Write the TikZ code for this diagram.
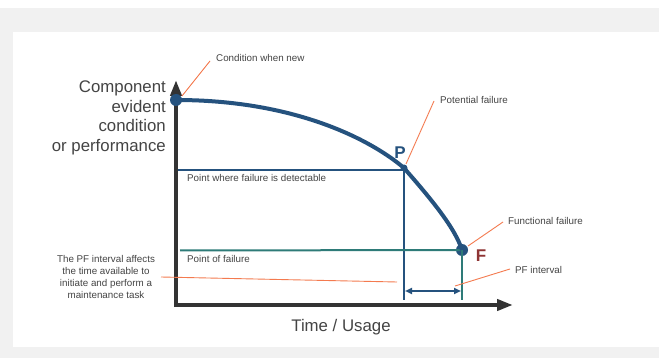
\documentclass[tikz,border=0pt]{standalone}
\usepackage{fontspec}
\setmainfont{Liberation Sans}
\usetikzlibrary{arrows.meta}
\definecolor{bgray}{HTML}{F1F1F1}
\definecolor{curveblue}{HTML}{25527E}
\definecolor{axisgray}{HTML}{333333}
\definecolor{tealc}{HTML}{2E7B78}
\definecolor{orangec}{HTML}{F47A4F}
\definecolor{txtgray}{HTML}{444444}
\definecolor{fred}{HTML}{8E3434}
\begin{document}
\begin{tikzpicture}[x=1pt,y=-1pt,
  axis/.style={line width=4pt,color=axisgray},
  lead/.style={orangec,line width=0.9pt},
  small/.style={font=\fontsize{9.8}{12}\selectfont,text=txtgray,inner sep=0pt},
  big/.style={font=\fontsize{16.8}{19.5}\selectfont,text=txtgray,inner sep=0pt},
  dot/.style={circle,fill=curveblue,inner sep=0pt,minimum size=12pt}]
\useasboundingbox (0,0) rectangle (659,358);
\fill[bgray] (0,0) rectangle (659,358);
\fill[white] (0,0) rectangle (659,8);
\fill[white] (13,32) rectangle (659,347);
% axes
\coordinate (O) at (176,305);
\coordinate (Ytop) at (176,80);
\coordinate (Xend) at (513,305);
\draw[axis,-{Triangle[length=16pt,width=11pt]}] (176,307) -- (Ytop);
\draw[axis,-{Triangle[length=16pt,width=11pt]}] (174,305) -- (Xend);
% guide lines
\node[dot] (N) at (176,100) {};
\node[dot,minimum size=7pt] (P) at (404,168) {};
\node[dot] (F) at (462,250) {};
\coordinate (DL) at (178,170);
\coordinate (FL) at (180,250.5);
\coordinate (Pb) at (404,300);
\coordinate (Fb) at (462,300);
\draw[curveblue,line width=2pt] (DL) -- (404,170);
\draw[curveblue,line width=2pt] (P.center) -- (Pb);
\draw[tealc,line width=2pt] (FL) -- (F.center);
\draw[tealc,line width=2pt] (F.center) -- (Fb);
\draw[curveblue,line width=2pt,{Triangle[length=7pt,width=6pt]}-{Triangle[length=7pt,width=6pt]}] (405,291) -- (461,291);
% curve
\draw[curveblue,line width=4pt] (N.center) .. controls (300,100) and (375,143) .. (P.center)
   .. controls (432,200) and (455,228) .. (F.center);
% letters
\node[font=\fontsize{17}{17}\selectfont\bfseries,text=curveblue,inner sep=0pt] (Pl) at (400,153) {P};
\node[font=\fontsize{17}{17}\selectfont\bfseries,text=fred,inner sep=0pt] (Fl) at (481,256) {F};
% labels
\node[small,anchor=west] (cwn) at (216,58) {Condition when new};
\node[small,anchor=west] (pf) at (440,100) {Potential failure};
\node[small,anchor=west] (ff) at (508,221) {Functional failure};
\node[small,anchor=west] (pfi) at (515,270) {PF interval};
\node[small,anchor=west] (pwd) at (187,178) {Point where failure is detectable};
\node[small,anchor=west] (pof) at (187,259) {Point of failure};
\node[small,align=center] (note) at (106,277) {The PF interval affects\\the time available to\\initiate and perform a\\maintenance task};
\node[big,align=right,anchor=east] (ylab) at (166,118) {Component\\evident\\condition\\or performance};
\node[big] (xlab) at (341,327) {Time / Usage};
% leader lines
\coordinate (c1) at (210,61);
\coordinate (c2) at (434,101);
\coordinate (c3) at (503,222);
\coordinate (c4) at (510,269);
\coordinate (c5) at (161,277);
\draw[lead] (182,96) -- (c1);
\draw[lead] (406,164) -- (c2);
\draw[lead] (468,246) -- (c3);
\draw[lead] (455,286) -- (c4);
\draw[lead] (c5) -- (397,282);
\end{tikzpicture}
\end{document}
